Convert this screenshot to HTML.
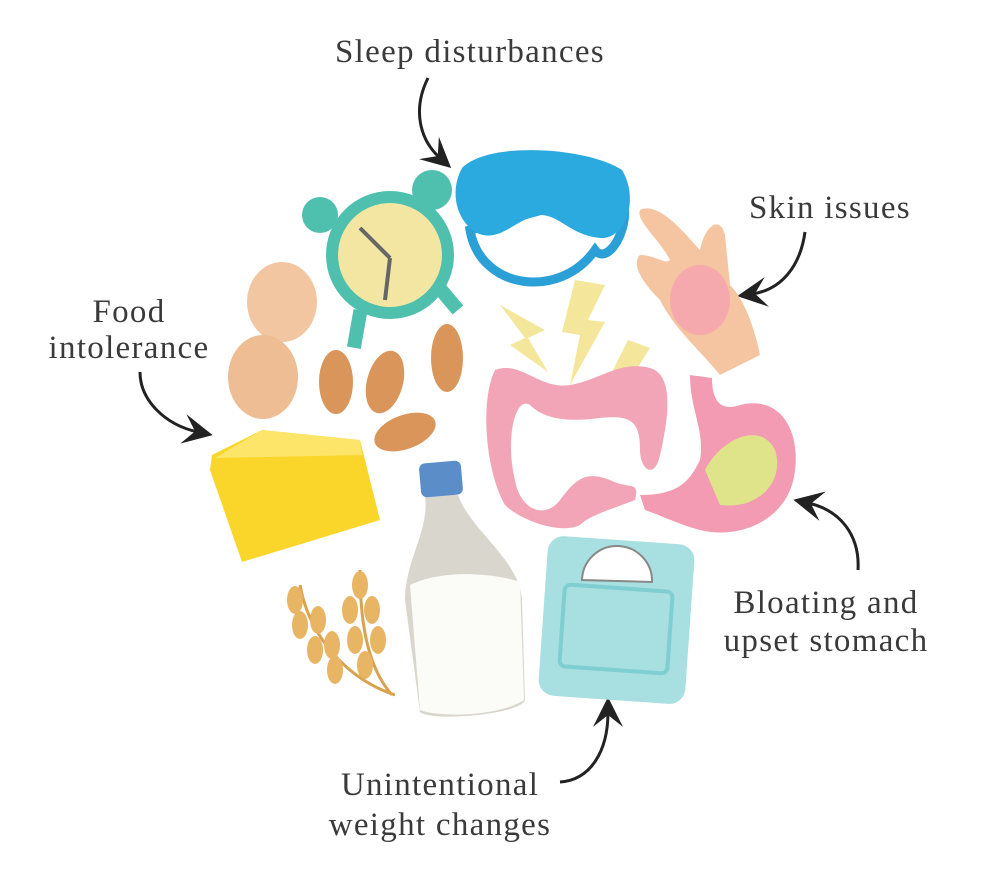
<!DOCTYPE html>
<html><head><meta charset="utf-8"><style>
html,body{margin:0;padding:0;background:#fff;}
svg{display:block}
text{font-family:"Liberation Serif",serif;fill:#3a3a3a;font-size:33px;letter-spacing:1.3px;}
</style></head><body>
<svg width="988" height="886" viewBox="0 0 988 886" xmlns="http://www.w3.org/2000/svg">
<defs><marker id="ah" markerWidth="10" markerHeight="10" refX="5" refY="5" orient="auto"><path d="M0,0 L10,5 L0,10 L4,5 Z" fill="#222"/></marker></defs>
<!-- labels -->
<text x="470" y="62" text-anchor="middle">Sleep disturbances</text>
<text x="830" y="218" text-anchor="middle">Skin issues</text>
<text x="129" y="322" text-anchor="middle">Food</text>
<text x="129" y="358" text-anchor="middle">intolerance</text>
<text x="826" y="613" text-anchor="middle">Bloating and</text>
<text x="826" y="651" text-anchor="middle">upset stomach</text>
<text x="440" y="795" text-anchor="middle">Unintentional</text>
<text x="440" y="835" text-anchor="middle">weight changes</text>
<!-- arrows -->
<g fill="none" stroke="#222" stroke-width="3" marker-end="url(#ah)">
<path d="M428,78 C412,110 420,140 440,158"/>
<path d="M805,232 C800,268 780,290 752,294"/>
<path d="M140,372 C140,400 165,425 198,432"/>
<path d="M858,570 C860,535 840,510 808,503"/>
<path d="M560,782 C590,780 608,752 608,712"/>
</g>
<!-- sleep mask -->
<path d="M470,230 C480,290 560,300 595,250 C610,270 640,210 615,190 L470,230 Z" fill="none" stroke="#2aa0d6" stroke-width="9"/>
<path d="M462,168 C490,140 590,148 622,170 C640,200 625,240 600,238 C570,235 560,215 540,215 C515,218 500,245 475,232 C455,218 450,190 462,168 Z" fill="#2aaade"/>
<!-- clock -->
<circle cx="320" cy="215" r="18" fill="#4fbfae"/><circle cx="432" cy="190" r="20" fill="#4fbfae"/>
<rect x="350" y="310" width="14" height="38" fill="#4fbfae" transform="rotate(10 357 330)"/>
<rect x="440" y="280" width="14" height="34" fill="#4fbfae" transform="rotate(-40 447 297)"/>
<circle cx="390" cy="255" r="64" fill="#4fbfae"/>
<circle cx="390" cy="255" r="52" fill="#f3e6a3"/>
<path d="M390,258 L360,228 M390,258 L385,300" stroke="#666" stroke-width="4"/>
<!-- eggs -->
<ellipse cx="282" cy="302" rx="35" ry="40" fill="#f2c6a0"/>
<ellipse cx="263" cy="377" rx="35" ry="42" fill="#eebd94"/>
<!-- peanuts -->
<g fill="#d9955a">
<ellipse cx="336" cy="382" rx="17" ry="32"/>
<ellipse cx="385" cy="382" rx="18" ry="32" transform="rotate(15 385 382)"/>
<ellipse cx="447" cy="358" rx="16" ry="34"/>
<ellipse cx="405" cy="432" rx="32" ry="17" transform="rotate(-20 405 432)"/>
</g>
<!-- cheese -->
<path d="M212,455 L262,430 L360,440 L380,520 L242,562 L210,470 Z" fill="#fbd62a"/>
<path d="M262,430 L360,440 L362,455 L215,458 Z" fill="#fde56a"/>
<!-- wheat -->
<g stroke="#d9a24f" stroke-width="3" fill="none"><path d="M300,585 C310,640 350,680 395,695"/><path d="M360,570 C360,630 370,670 392,695"/></g>
<g fill="#e8b565">
<ellipse cx="295" cy="600" rx="8" ry="14"/><ellipse cx="300" cy="625" rx="8" ry="14"/><ellipse cx="315" cy="650" rx="8" ry="14"/><ellipse cx="335" cy="670" rx="8" ry="14"/><ellipse cx="318" cy="620" rx="8" ry="14"/><ellipse cx="332" cy="645" rx="8" ry="14"/>
<ellipse cx="360" cy="585" rx="8" ry="14"/><ellipse cx="350" cy="610" rx="8" ry="14"/><ellipse cx="372" cy="610" rx="8" ry="14"/><ellipse cx="355" cy="640" rx="8" ry="14"/><ellipse cx="378" cy="640" rx="8" ry="14"/><ellipse cx="365" cy="665" rx="8" ry="14"/>
</g>
<!-- milk -->
<path d="M425,495 L458,495 C470,530 520,560 522,600 L525,700 C520,715 430,722 420,712 L405,600 C405,560 430,530 425,495 Z" fill="#d9d6cd"/>
<path d="M410,585 C440,570 490,572 520,582 L524,700 C500,716 440,718 420,710 Z" fill="#fbfbf8"/>
<rect x="420" y="462" width="42" height="34" rx="6" fill="#5b8ec9" transform="rotate(-5 441 479)"/>
<!-- scale -->
<rect x="543" y="540" width="147" height="160" rx="16" fill="#a8dfe0" transform="rotate(4 616 620)"/>
<rect x="562" y="588" width="108" height="82" rx="6" fill="none" stroke="#7fcfd2" stroke-width="4" transform="rotate(4 616 629)"/>
<path d="M582,580 A35,35 0 0 1 652,582 Z" fill="#fff" stroke="#888" stroke-width="2"/>
<!-- lightning -->
<g fill="#f4e79b">
<path d="M500,305 L545,330 L528,338 L548,372 L510,345 L525,338 Z"/>
<path d="M575,280 L605,285 L588,320 L605,322 L570,385 L580,335 L562,332 Z"/>
<path d="M628,340 L650,348 L635,372 L648,375 L605,412 L622,378 L612,372 Z"/>
</g>
<!-- intestines -->
<path d="M495,370 C520,360 540,390 570,385 C600,380 620,360 650,368 C675,375 668,420 660,455 C655,480 640,470 640,450 C640,420 630,415 600,418 C570,422 545,420 530,405 C515,395 505,440 515,480 C520,510 545,520 560,500 C575,480 585,470 610,480 C630,490 640,480 635,500 C610,510 590,515 580,525 C560,535 520,520 505,505 C485,470 480,400 495,370 Z" fill="#f3a5b8"/>
<!-- hand -->
<path d="M640,210 C660,200 690,240 700,250 C705,225 720,215 725,235 L730,285 C745,300 755,330 760,355 L720,375 C700,350 675,330 660,300 C645,285 630,265 640,255 C655,255 665,265 670,260 C660,240 635,220 640,210 Z" fill="#f5c4a0"/>
<ellipse cx="700" cy="300" rx="30" ry="35" fill="#f6a9ad"/>
<!-- stomach -->
<path d="M690,375 L712,378 C712,400 720,412 740,405 C780,395 800,430 795,470 C790,520 740,540 700,530 C680,525 660,515 645,510 L640,495 C680,495 690,480 700,460 C705,430 690,410 690,375 Z" fill="#f29bb2"/>
<path d="M705,470 C720,440 760,420 775,450 C785,480 760,510 720,505 Z" fill="#dfe38a"/>
</svg>
</body></html>
